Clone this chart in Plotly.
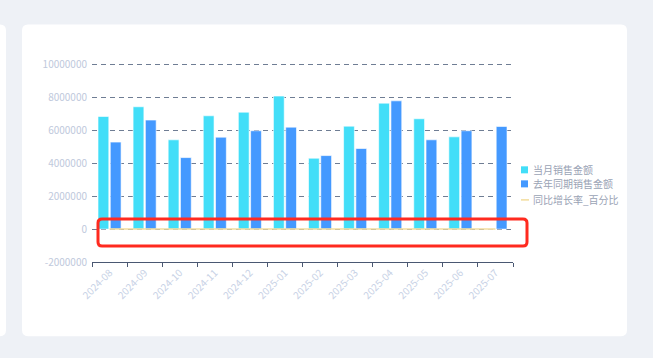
import plotly.graph_objects as go

months = ["2024-08", "2024-09", "2024-10", "2024-11", "2024-12", "2025-01",
          "2025-02", "2025-03", "2025-04", "2025-05", "2025-06", "2025-07"]
current_sales = [6850000, 7440000, 5430000, 6890000, 7110000, 8090000,
                 4310000, 6260000, 7660000, 6710000, 5610000, 0]
last_year_sales = [5290000, 6630000, 4350000, 5590000, 5980000, 6200000,
                   4470000, 4900000, 7800000, 5430000, 5980000, 6240000]
yoy_growth_pct = [29.5, 12.2, 24.8, 23.3, 18.9, 30.5, -3.6, 27.8, -1.8, 23.6, -6.2, -100.0]
y_ticks = [-2000000, 0, 2000000, 4000000, 6000000, 8000000, 10000000]
legend_names = ["当月销售金额", "去年同期销售金额", "同比增长率_百分比"]
colors = ["#42def8", "#4499ff", "#f3dc9c"]

W, H = 653, 358
L, R, B = 92, 513, 262
T = 65 - 0.1 * (B - 65) / 12  # leave a sliver above 10M so its gridline shows


def px_x(p):
    return (p - L) / (R - L)


def px_y(p):
    return (B - p) / (B - T)


def rounded_rect(x0, y0, x1, y1, r):
    X0, X1 = px_x(x0), px_x(x1)
    Y0, Y1 = px_y(y0), px_y(y1)
    rx = r / (R - L)
    ry = r / (B - T)
    return (f"M {X0+rx},{Y0} L {X1-rx},{Y0} Q {X1},{Y0} {X1},{Y0-ry} "
            f"L {X1},{Y1+ry} Q {X1},{Y1} {X1-rx},{Y1} L {X0+rx},{Y1} "
            f"Q {X0},{Y1} {X0},{Y1+ry} L {X0},{Y0-ry} Q {X0},{Y0} {X0+rx},{Y0} Z")


fig = go.Figure()
fig.add_trace(go.Bar(
    x=months, y=current_sales, name=legend_names[0],
    marker=dict(color=colors[0], line=dict(color="rgba(255,255,255,0.6)", width=1)),
))
fig.add_trace(go.Bar(
    x=months, y=last_year_sales, name=legend_names[1],
    marker=dict(color=colors[1], line=dict(color="rgba(255,255,255,0.6)", width=1)),
))
fig.add_trace(go.Scatter(
    x=months, y=yoy_growth_pct, name=legend_names[2], mode="lines",
    line=dict(color=colors[2], width=1.5),
))

shapes = [
    dict(type="path", path=rounded_rect(22, 25, 627, 336, 6), xref="paper", yref="paper",
         fillcolor="white", line=dict(width=0), layer="below"),
    dict(type="path", path=rounded_rect(-10, 25, 6, 336, 6), xref="paper", yref="paper",
         fillcolor="white", line=dict(width=0), layer="below"),
    dict(type="path", path=rounded_rect(98, 219, 527, 246, 4), xref="paper", yref="paper",
         fillcolor="rgba(0,0,0,0)", line=dict(color="#ff2a1f", width=3), layer="above"),
]

annotations = []
legend_y = [170, 184, 200]
for i, (name, col, ly) in enumerate(zip(legend_names, colors, legend_y)):
    if i < 2:
        shapes.append(dict(type="rect", xref="paper", yref="paper",
                           x0=px_x(521), x1=px_x(528), y0=px_y(ly + 3.5), y1=px_y(ly - 3.5),
                           fillcolor=col, line=dict(width=0)))
    else:
        shapes.append(dict(type="line", xref="paper", yref="paper",
                           x0=px_x(521), x1=px_x(529), y0=px_y(ly), y1=px_y(ly),
                           line=dict(color=col, width=1.5)))
    annotations.append(dict(text=name, xref="paper", yref="paper", x=px_x(531), y=px_y(ly),
                            xanchor="left", yanchor="middle", showarrow=False,
                            font=dict(size=10, color="#9aa3b5")))

fig.update_layout(
    width=W, height=H,
    margin=dict(l=L, r=W - R, t=T, b=H - B, autoexpand=False),
    paper_bgcolor="#eef1f6",
    plot_bgcolor="rgba(0,0,0,0)",
    barmode="group", bargap=0.3, bargroupgap=0.12,
    font=dict(family="Noto Sans CJK SC, Noto Sans, sans-serif", size=10, color="#b8c2d6"),
    showlegend=False,
    shapes=shapes,
    annotations=annotations,
    xaxis=dict(
        type="category", tickangle=-45, tickfont=dict(size=10, color="#c8d2e6"),
        showgrid=False, showline=True, linecolor="#4a5872", linewidth=1.2,
        ticks="outside", tickson="boundaries", ticklen=4, tickcolor="#4a5872",
        zeroline=False, automargin=False,
    ),
    yaxis=dict(
        range=[-2000000, 10100000], tickvals=y_ticks,
        ticktext=[str(v) for v in y_ticks],
        tickfont=dict(size=10, color="#c0c9dc"),
        showgrid=True, gridcolor="#6f7d94", griddash="5px,4px", gridwidth=1,
        zeroline=False, showline=False, ticks="", ticklabelstandoff=4, automargin=False,
    ),
)

fig.write_html("out.html", post_script="document.body.style.margin='0';",
               config={"displayModeBar": False})
